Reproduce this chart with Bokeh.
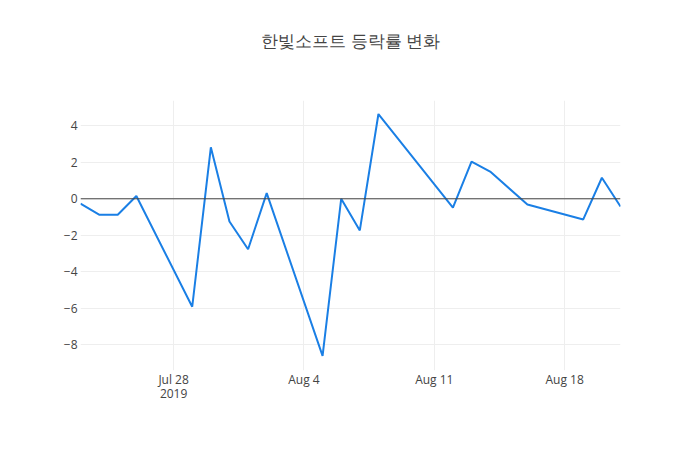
from datetime import datetime

from bokeh.embed import file_html
from bokeh.models import ColumnDataSource, FixedTicker, Range1d, Span
from bokeh.plotting import figure
from bokeh.resources import INLINE

# daily change rate (%) of the stock, trading days only
dates = ["2019-07-23", "2019-07-24", "2019-07-25", "2019-07-26",
         "2019-07-29", "2019-07-30", "2019-07-31", "2019-08-01", "2019-08-02",
         "2019-08-05", "2019-08-06", "2019-08-07", "2019-08-08",
         "2019-08-12", "2019-08-13", "2019-08-14", "2019-08-16",
         "2019-08-19", "2019-08-20", "2019-08-21"]
rates = [-0.27, -0.87, -0.87, 0.15,
         -5.91, 2.82, -1.24, -2.76, 0.31,
         -8.6, 0.0, -1.73, 4.64,
         -0.49, 2.04, 1.49, -0.31,
         -1.13, 1.15, -0.42]

tick_dates = ["2019-07-28", "2019-08-04", "2019-08-11", "2019-08-18"]
tick_labels = ["Jul 28\n2019", "Aug 4", "Aug 11", "Aug 18"]
y_ticks = [-8, -6, -4, -2, 0, 2, 4]

FONT = "Open Sans"
GREY = "#444444"


def to_ms(s):
    return datetime.strptime(s, "%Y-%m-%d").timestamp() * 1000.0


source = ColumnDataSource(data=dict(x=[to_ms(d) for d in dates], y=rates))

p = figure(width=684, height=434, x_axis_type="datetime",
           output_backend="svg", toolbar_location=None,
           min_border_left=80, min_border_right=64,
           min_border_top=100, min_border_bottom=64)

p.x_range = Range1d(to_ms(dates[0]), to_ms(dates[-1]))
p.y_range = Range1d(-9.4, 5.38)

p.line("x", "y", source=source, line_color="#1a7fe5", line_width=2)

# zero line
p.add_layout(Span(location=0, dimension="width", line_color=GREY, line_width=1))

# title (blank second line lifts it higher above the frame)
p.title.text = "한빛소프트 등락률 변화\n "
p.title.align = "center"
p.title.text_font = FONT
p.title.text_font_size = "17px"
p.title.text_font_style = "normal"
p.title.text_color = GREY
p.title.standoff = 52

# axes
tick_ms = [to_ms(d) for d in tick_dates]
p.xaxis.ticker = FixedTicker(ticks=tick_ms)
p.xaxis.major_label_overrides = {t: lab for t, lab in zip(tick_ms, tick_labels)}
p.yaxis.ticker = FixedTicker(ticks=y_ticks)
p.yaxis.major_label_overrides = {v: str(v).replace("-", "\u2212") for v in y_ticks}

for ax in (p.xaxis, p.yaxis):
    ax.axis_line_color = None
    ax.major_tick_line_color = None
    ax.minor_tick_line_color = None
    ax.major_tick_out = 0
    ax.major_tick_in = 0
    ax.major_label_text_font = FONT
    ax.major_label_text_font_size = "12px"
    ax.major_label_text_color = GREY
p.xaxis.major_label_standoff = 0
p.xaxis.major_label_text_line_height = 0.85
p.yaxis.major_label_standoff = 3

p.xgrid.grid_line_color = "#eeeeee"
p.ygrid.grid_line_color = "#eeeeee"
p.outline_line_color = None

open("out.html", "w").write(file_html(p, INLINE))
